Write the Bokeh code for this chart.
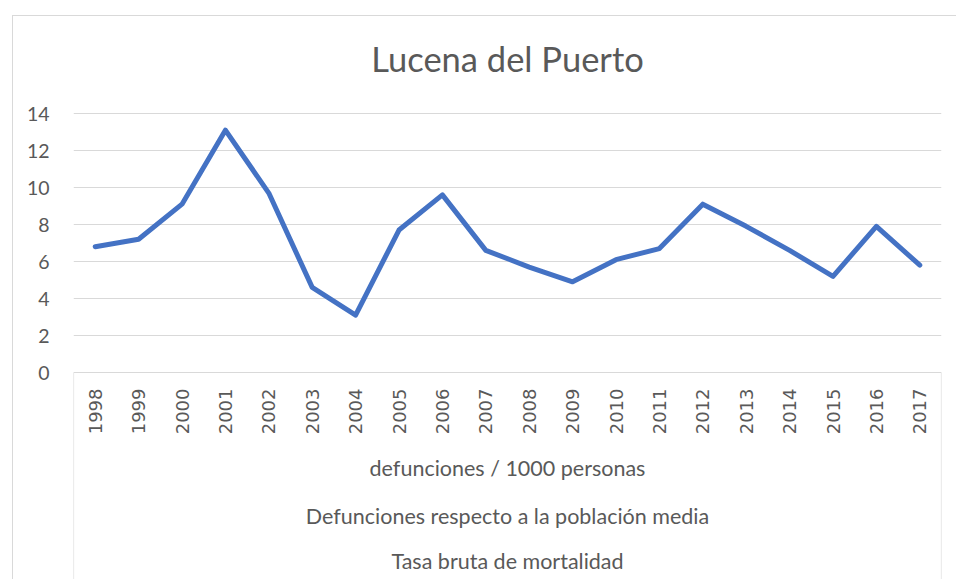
import math
from bokeh.plotting import figure
from bokeh.models import FixedTicker, Range1d
from bokeh.core.properties import value
from bokeh.embed import file_html
from bokeh.resources import INLINE

years = [str(y) for y in range(1998, 2018)]
tasa = [6.8, 7.2, 9.1, 13.1, 9.7, 4.6, 3.1, 7.7, 9.6, 6.6,
        5.7, 4.9, 6.1, 6.7, 9.1, 7.9, 6.6, 5.2, 7.9, 5.8]
y_ticks = [0, 2, 4, 6, 8, 10, 12, 14]
title_text = "Lucena del Puerto"
axis_titles = ["defunciones / 1000 personas",
               "Defunciones respecto a la población media",
               "Tasa bruta de mortalidad"]

GREY = "#595959"
LINE = "#d9d9d9"

# layout (pixels)
FRAME_W = 868
PLOT_H = 259          # height of the 0..14 value band
TOP_PAD = 97          # space above the value band (title area)
BOTTOM_PAD = 207      # space below the value band (category labels)
FRAME_H = TOP_PAD + PLOT_H + BOTTOM_PAD
y_top_tick = y_ticks[-1]
px_per_unit = PLOT_H / y_top_tick
y_hi = y_top_tick + TOP_PAD / px_per_unit
y_lo = -BOTTOM_PAD / px_per_unit

p = figure(x_range=years, y_range=Range1d(y_lo, y_hi),
           frame_width=FRAME_W, frame_height=FRAME_H,
           min_border_left=60, min_border_right=15,
           min_border_top=0, min_border_bottom=0,
           output_backend="svg", toolbar_location=None)
p.styles = {"margin-left": "12px", "margin-top": "15px",
            "border-top": "1px solid #d9d9d9", "border-left": "1px solid #d9d9d9"}
p.outline_line_color = None
p.background_fill_color = "white"
p.border_fill_color = "white"

n = len(years)

# chart title
p.text(x=[n / 2], y=[y_top_tick], text=[title_text], y_offset=-55,
       text_align="center", text_baseline="middle",
       text_font=value("Lato"), text_font_size="34.5px", text_color=GREY)

p.xaxis.visible = False
p.xgrid.grid_line_color = None
p.ygrid.ticker = FixedTicker(ticks=y_ticks)
p.ygrid.grid_line_color = LINE
p.ygrid.grid_line_width = 1.2

ya = p.yaxis[0]
ya.ticker = FixedTicker(ticks=y_ticks)
ya.axis_line_color = None
ya.major_tick_line_color = None
ya.minor_tick_line_color = None
ya.major_label_standoff = 18
ya.major_label_text_font = "Lato"
ya.major_label_text_font_size = "19.5px"
ya.major_label_text_color = GREY

# category box sides below the axis
p.segment(x0=[0, n], y0=[0, 0], x1=[0, n], y1=[y_lo, y_lo],
          line_color=LINE, line_width=1.2)

# year labels (rotated, reading upward)
p.text(x=years, y=[0] * n, text=years, angle=math.pi / 2,
       text_align="right", text_baseline="middle", y_offset=16,
       text_font=value("DejaVu Sans"), text_font_size="18px",
       text_color=GREY)

# multi-level category titles
offsets = [95, 143, 188]
p.text(x=[n / 2] * 3, y=[0] * 3, text=axis_titles, y_offset=offsets,
       text_align="center", text_baseline="middle",
       text_font=value("Lato"), text_font_size="21.5px", text_color=GREY)

p.line(x=years, y=tasa, line_color="#4472C4", line_width=5,
       line_join="round", line_cap="round")

open("out.html", "w").write(file_html(p, INLINE))
